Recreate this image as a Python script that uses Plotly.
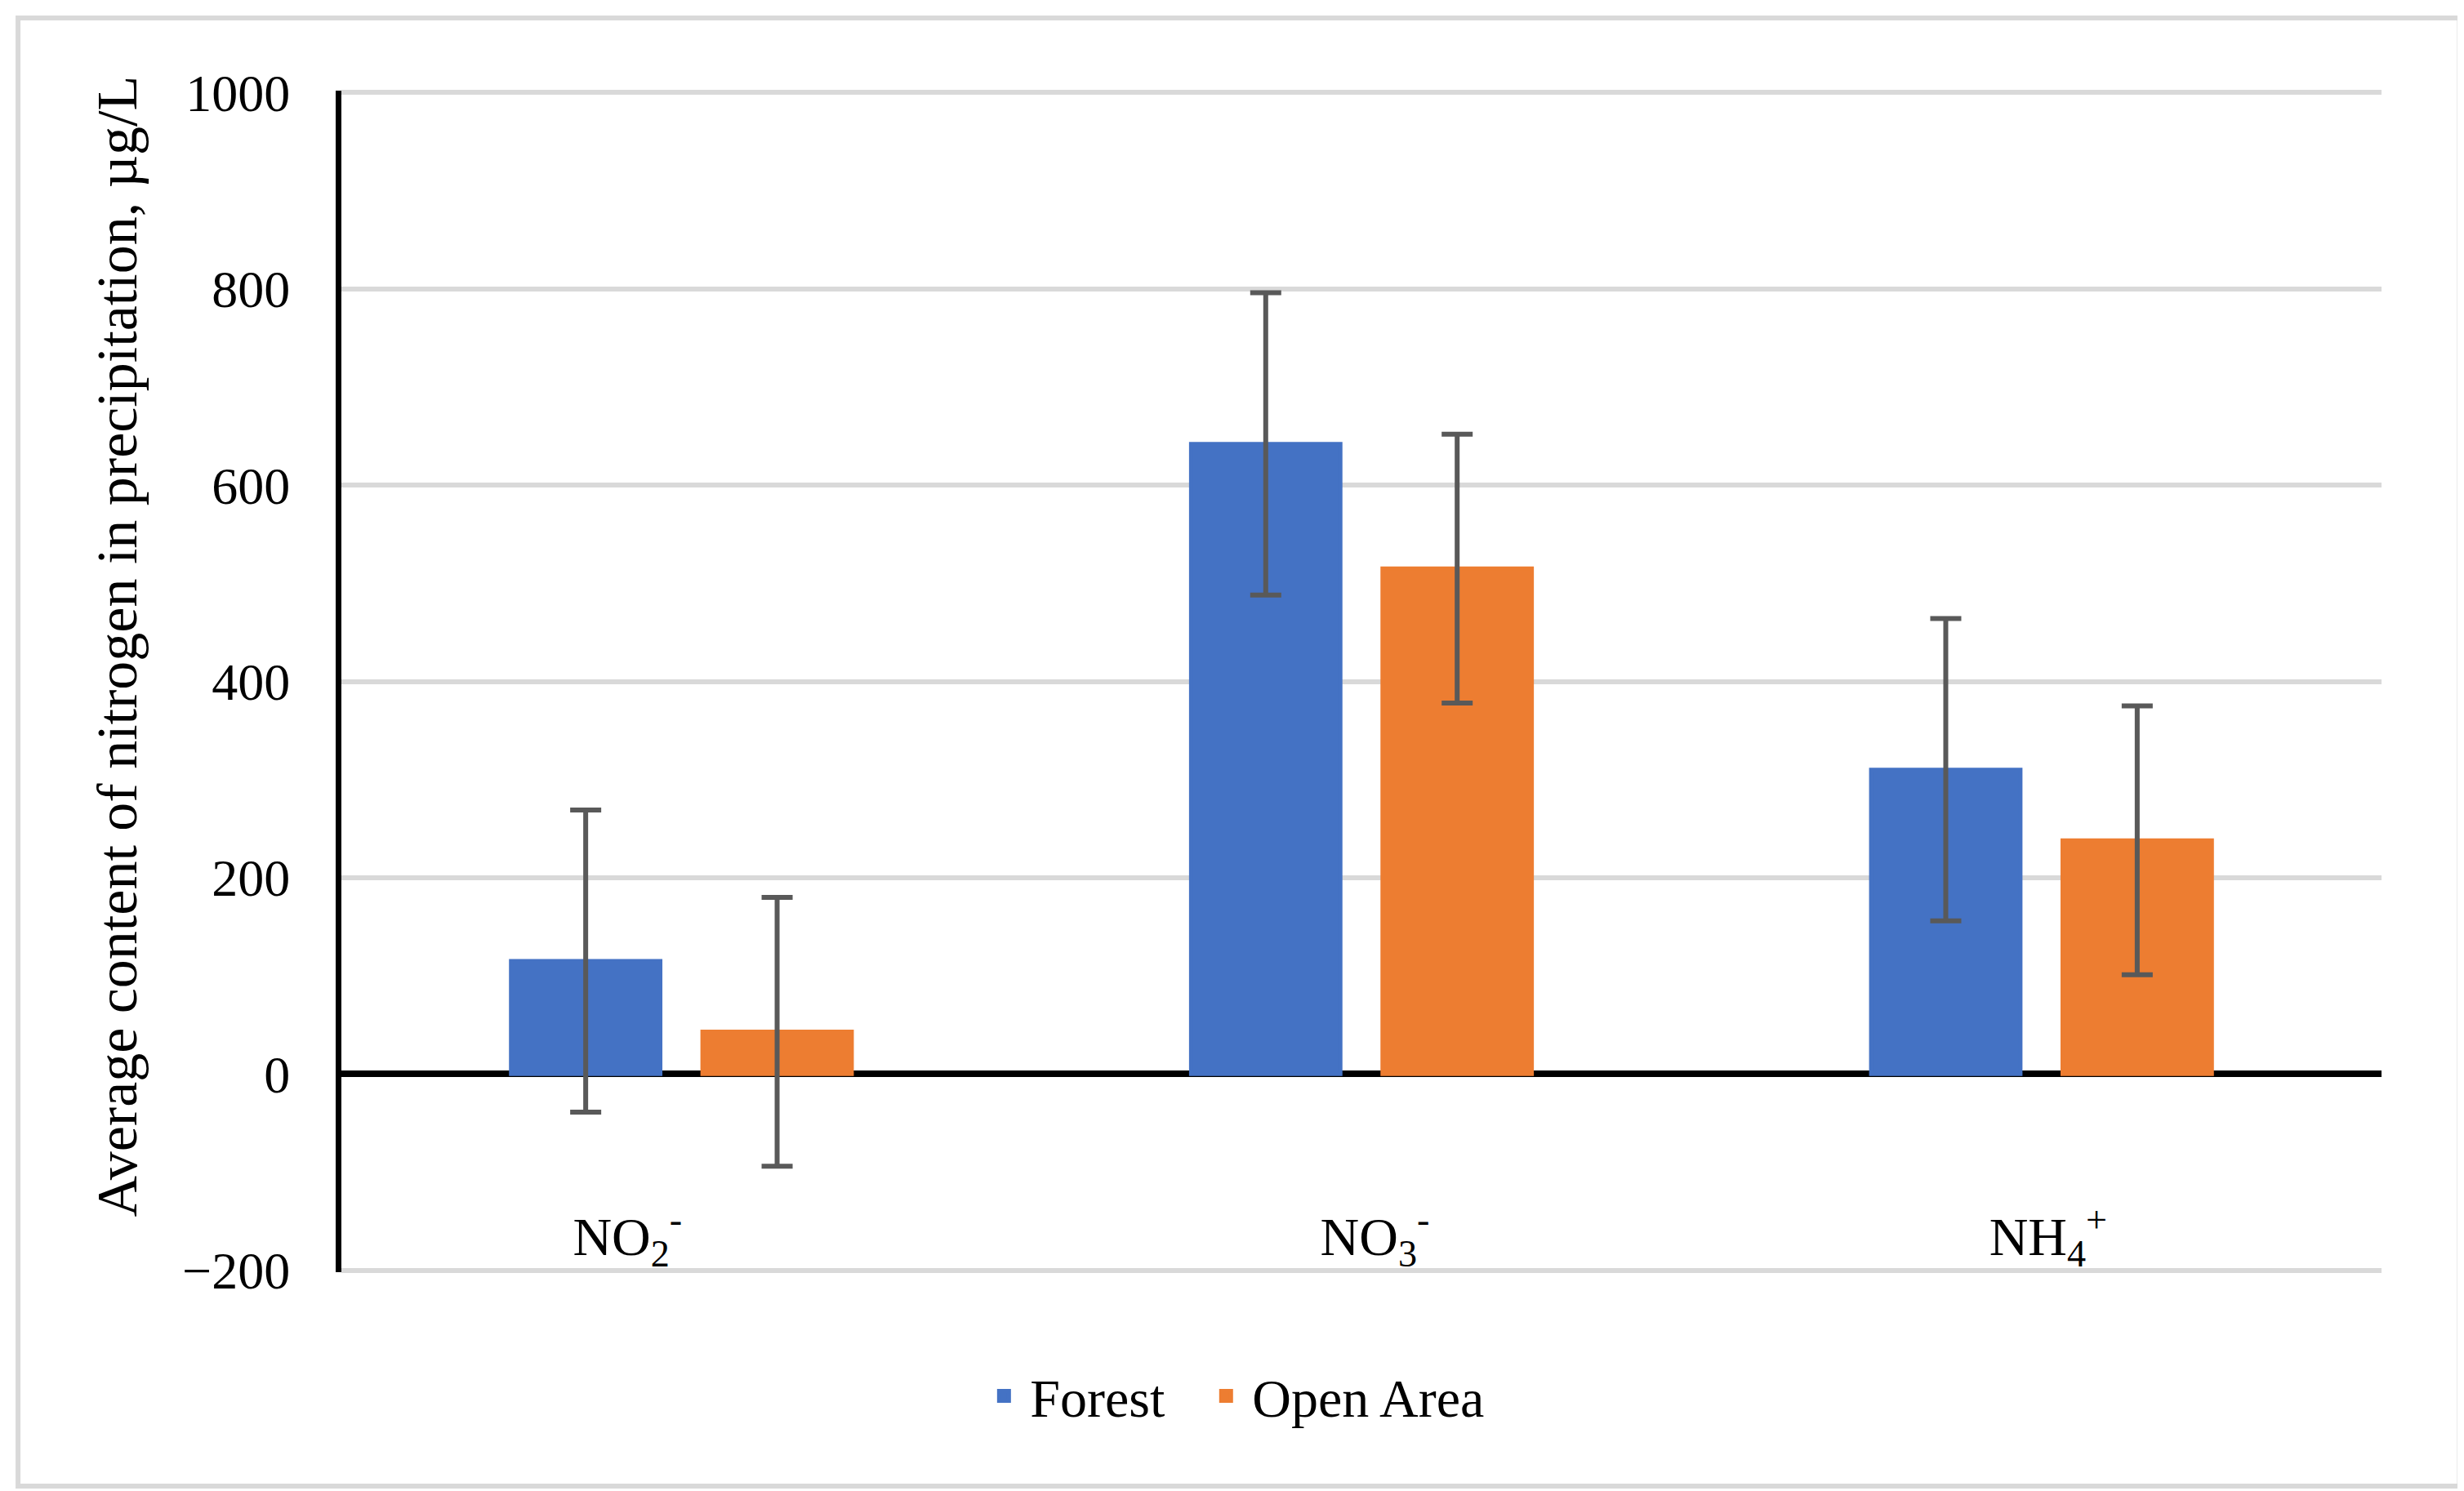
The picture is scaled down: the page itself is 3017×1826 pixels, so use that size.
import plotly.graph_objects as go

# ---- data ----
categories = ["NO2-", "NO3-", "NH4+"]
category_labels = [
    "NO<sub>2</sub><sup>-</sup>" + "\u00a0" * 8,
    "\u00a0\u00a0" + "NO<sub>3</sub><sup>-</sup>",
    "\u00a0" + "NH<sub>4</sub><sup>+</sup>",
]
forest_values = [115, 642, 310]
forest_errors = [154, 154, 154]
open_values = [43, 515, 238]
open_errors = [137, 137, 137]
y_ticks = [-200, 0, 200, 400, 600, 800, 1000]
y_tick_labels = ["\u2212200", "0", "200", "400", "600", "800", "1000"]

W, H = 3017, 1826
L, R, T, B = 409.5, 2908, 102.6, 1550.4  # plot area in px (range padded 2 units)

FONT = "Liberation Serif, Times New Roman, serif"
ERR_COLOR = "#595959"
C_FOREST = "#4472C4"
C_OPEN = "#ED7D31"

fig = go.Figure()
fig.add_trace(go.Bar(
    name="Forest", x=categories, y=forest_values, legend="legend",
    marker=dict(color=C_FOREST, line=dict(width=5, color=C_FOREST)),
    error_y=dict(type="data", array=forest_errors, visible=True,
                 color=ERR_COLOR, thickness=6, width=19),
))
fig.add_trace(go.Bar(
    name="Open Area", x=categories, y=open_values, legend="legend2",
    marker=dict(color=C_OPEN, line=dict(width=5, color=C_OPEN)),
    error_y=dict(type="data", array=open_errors, visible=True,
                 color=ERR_COLOR, thickness=6, width=19),
))

def px_x(px):
    return (px - L) / (R - L)

def px_y(py):
    return (B - py) / (B - T)

legend_common = dict(orientation="h", xanchor="left", yanchor="middle",
                     font=dict(family=FONT, size=66, color="black"),
                     itemwidth=54, bgcolor="rgba(0,0,0,0)")

fig.update_layout(
    width=W, height=H,
    margin=dict(l=L, r=W - R, t=T, b=H - B, autoexpand=False),
    paper_bgcolor="white", plot_bgcolor="white",
    barmode="group", bargap=0.437, bargroupgap=0.22,
    font=dict(family=FONT, size=66, color="black"),
    showlegend=True,
    legend=dict(x=px_x(1189), y=px_y(1702), **legend_common),
    legend2=dict(x=px_x(1461), y=px_y(1702), **legend_common),
    xaxis=dict(
        type="category", showgrid=False, showline=False, zeroline=False,
        tickvals=categories, ticktext=category_labels,
        ticks="", anchor="free", position=px_y(1462),
        tickfont=dict(family=FONT, size=66, color="black"),
        automargin=False,
    ),
    yaxis=dict(
        range=[-202, 1002], tickvals=y_ticks, ticktext=y_tick_labels,
        showgrid=True, gridcolor="#D9D9D9", gridwidth=6,
        zeroline=True, zerolinecolor="black", zerolinewidth=8,
        showline=True, linecolor="black", linewidth=7,
        ticks="", ticklabelstandoff=43,
        tickfont=dict(family=FONT, size=64, color="black"),
        automargin=False,
    ),
    annotations=[dict(
        text="Average content of nitrogen in precipitation, \u00b5g/L",
        xref="paper", yref="paper", x=px_x(134), y=px_y(784),
        xanchor="center", yanchor="middle", textangle=-90, showarrow=False,
        font=dict(family=FONT, size=70, color="black"),
    )],
    shapes=[dict(
        type="rect", xref="paper", yref="paper",
        x0=px_x(13.5), x1=px_x(3003.5), y0=px_y(1812.5), y1=px_y(13.5),
        line=dict(color="#D9D9D9", width=6), fillcolor="rgba(0,0,0,0)",
        layer="below",
    )],
)

fig.write_html("out.html")
